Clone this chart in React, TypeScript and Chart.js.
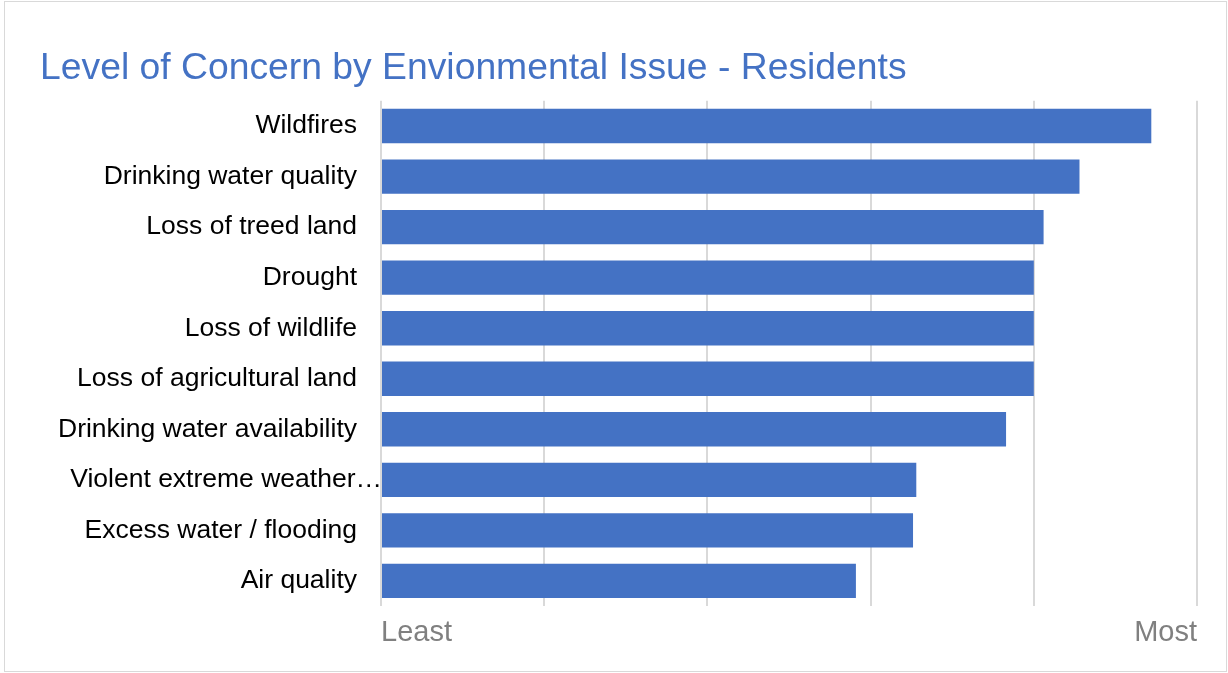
import React, { useEffect, useRef } from "react";
import { Chart, registerables } from "chart.js";

Chart.register(...registerables);

const categories: string[] = [
  "Wildfires",
  "Drinking water quality",
  "Loss of treed land",
  "Drought",
  "Loss of wildlife",
  "Loss of agricultural land",
  "Drinking water availability",
  "Violent extreme weather…",
  "Excess water / flooding",
  "Air quality",
];

const concernValues: number[] = [4.72, 4.28, 4.06, 4.0, 4.0, 4.0, 3.83, 3.28, 3.26, 2.91];

// labels that were truncated in the original and overflow up to the axis
const overflowLabels: number[] = [7];

const axisMin = 0;
const axisMax = 5;
const tickLabels: Record<number, string> = { 0: "Least", 5: "Most" };

const titleText = "Level of Concern by Envionmental Issue - Residents";
const FONT = "'Liberation Sans', Arial, sans-serif";
const LABEL_SIZE = 26.5;

const overflowLabelPlugin = {
  id: "overflowLabel",
  afterDraw(chart: any) {
    const y = chart.scales.y;
    const ctx = chart.ctx;
    ctx.save();
    ctx.font = `${LABEL_SIZE}px ${FONT}`;
    ctx.fillStyle = "#000000";
    ctx.textAlign = "right";
    ctx.textBaseline = "middle";
    overflowLabels.forEach((i) => {
      ctx.fillText(categories[i], chart.chartArea.left + 1, y.getPixelForValue(i));
    });
    ctx.restore();
  },
};

export default function App() {
  const canvasRef = useRef<HTMLCanvasElement | null>(null);

  useEffect(() => {
    document.body.style.margin = "0";
    const canvas = canvasRef.current;
    if (!canvas) return;
    const chart = new Chart(canvas, {
      type: "bar",
      data: {
        labels: categories,
        datasets: [
          {
            data: concernValues,
            backgroundColor: "#4472C4",
            borderWidth: 0,
            barPercentage: 0.68,
            categoryPercentage: 1,
          },
        ],
      },
      plugins: [overflowLabelPlugin],
      options: {
        indexAxis: "y",
        animation: false,
        responsive: false,
        maintainAspectRatio: false,
        layout: { padding: { left: 40, right: 31, top: 0, bottom: 14 } },
        plugins: {
          legend: { display: false },
          tooltip: { enabled: false },
          title: {
            display: true,
            text: titleText,
            align: "start",
            color: "#4472C4",
            font: { family: FONT, size: 37.3, weight: "normal" },
            padding: { top: 46, bottom: 10 },
          },
        },
        scales: {
          x: {
            min: axisMin,
            max: axisMax,
            border: { display: false },
            grid: { color: "#d9d9d9", lineWidth: 2, drawTicks: false },
            ticks: {
              stepSize: 1,
              align: "inner",
              padding: 9,
              color: "#808080",
              font: { family: FONT, size: 29 },
              callback: (v: any) => tickLabels[Number(v)] ?? "",
            },
          },
          y: {
            border: { display: false },
            grid: { display: false, drawTicks: false },
            afterFit: (scale: any) => {
              scale.width = 341;
            },
            ticks: {
              padding: 24,
              color: "#000000",
              font: { family: FONT, size: LABEL_SIZE },
              callback: (_v: any, i: number) => (overflowLabels.includes(i) ? "" : categories[i]),
            },
          },
        },
      },
    });
    return () => chart.destroy();
  }, []);

  return (
    <div
      style={{
        position: "absolute",
        left: 0,
        top: 0,
        width: 1228,
        height: 673,
        background: "#fff",
      }}
    >
      <div
        style={{
          position: "absolute",
          left: 4,
          top: 1,
          width: 1221,
          height: 669,
          border: "1.5px solid #d9d9d9",
        }}
      />
      <canvas
        ref={canvasRef}
        width={1228}
        height={673}
        style={{ position: "absolute", left: 0, top: 0, width: 1228, height: 673 }}
      />
    </div>
  );
}
